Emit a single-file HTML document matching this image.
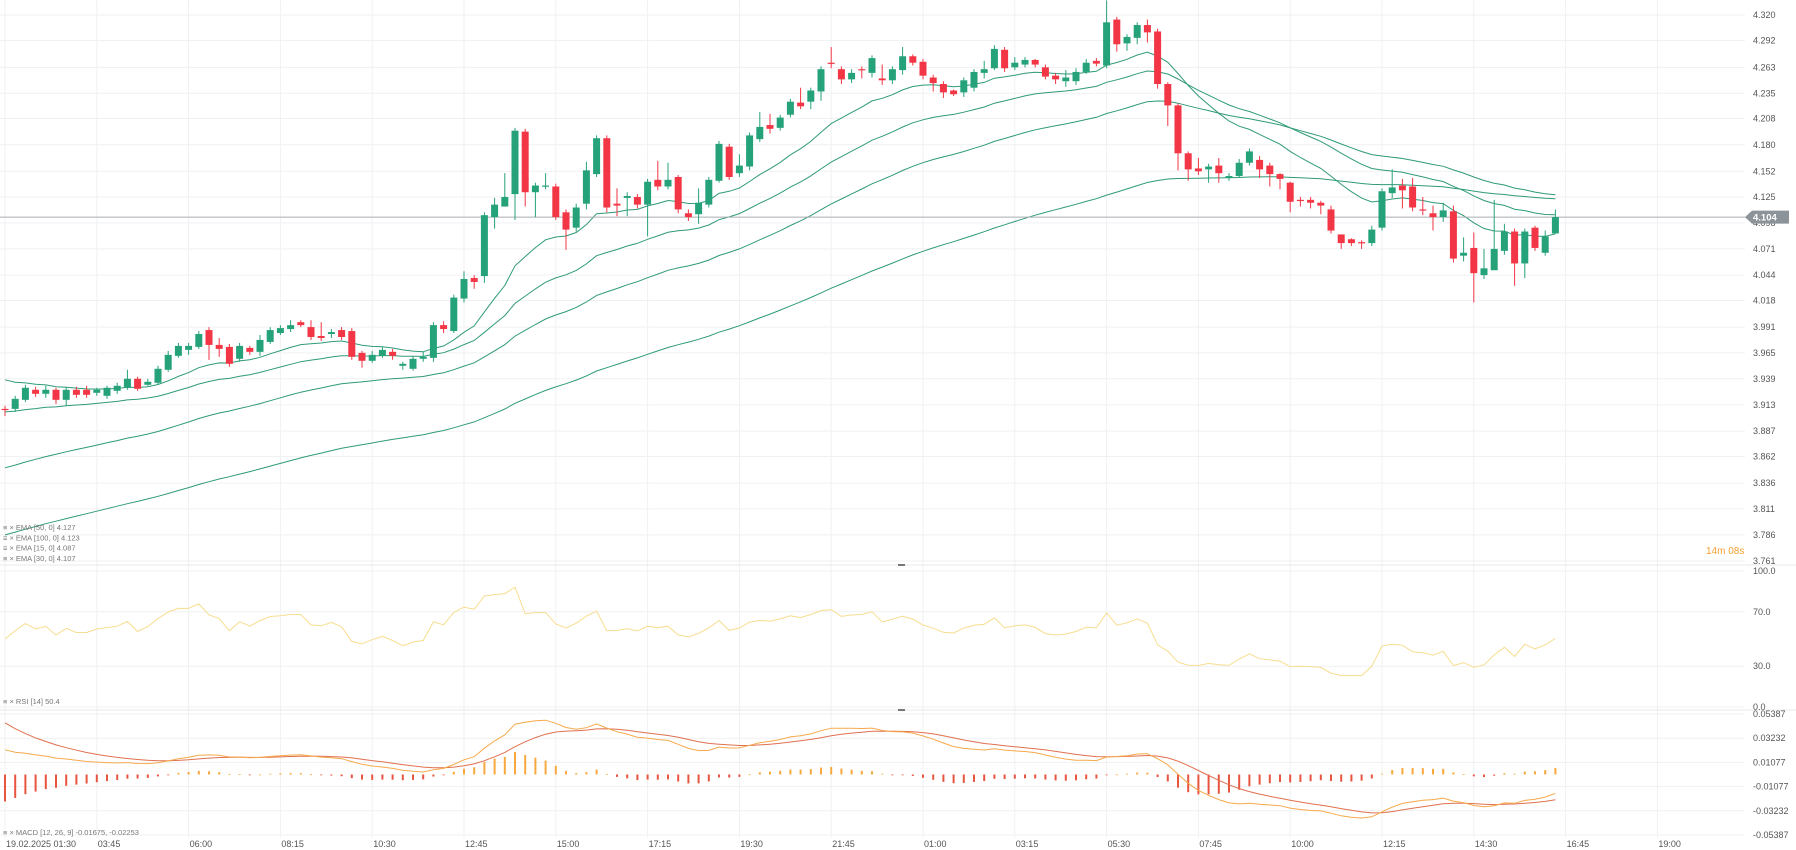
<!DOCTYPE html>
<html><head><meta charset="utf-8">
<style>
html,body{margin:0;padding:0;background:#fff;}
svg{display:block;font-family:"Liberation Sans",sans-serif;}
</style></head>
<body>
<svg id="chart" width="1796" height="850" viewBox="0 0 1796 850" xmlns="http://www.w3.org/2000/svg"></svg>
<script>
// ---- data ----
const timeLabels=["19.02.2025 01:30","03:45","06:00","08:15","10:30","12:45","15:00","17:15","19:30","21:45","01:00","03:15","05:30","07:45","10:00","12:15","14:30","16:45","19:00"];
const priceTicks=[4.320,4.292,4.263,4.235,4.208,4.180,4.152,4.125,4.098,4.071,4.044,4.018,3.991,3.965,3.939,3.913,3.887,3.862,3.836,3.811,3.786,3.761];
const rsiTicks=[100,70,30,0];
const macdTicks=[0.05387,0.03232,0.01077,-0.01077,-0.03232,-0.05387];
const opens=[3.909,3.909,3.918,3.928,3.924,3.928,3.918,3.928,3.928,3.925,3.922,3.927,3.930,3.939,3.933,3.935,3.948,3.962,3.968,3.971,3.988,3.973,3.971,3.959,3.970,3.966,3.976,3.985,3.989,3.996,3.991,3.982,3.984,3.988,3.987,3.965,3.957,3.962,3.966,3.952,3.949,3.959,3.960,3.993,3.987,4.020,4.041,4.043,4.104,4.115,4.128,4.194,4.130,4.136,4.136,4.109,4.093,4.118,4.149,4.187,4.118,4.124,4.125,4.117,4.143,4.136,4.146,4.108,4.107,4.117,4.142,4.178,4.150,4.157,4.186,4.201,4.198,4.212,4.225,4.226,4.237,4.268,4.261,4.250,4.261,4.257,4.251,4.249,4.260,4.275,4.269,4.252,4.245,4.238,4.236,4.241,4.257,4.262,4.282,4.263,4.266,4.271,4.263,4.254,4.248,4.248,4.258,4.270,4.265,4.315,4.289,4.295,4.309,4.302,4.245,4.222,4.171,4.155,4.154,4.158,4.145,4.147,4.161,4.164,4.158,4.149,4.140,4.122,4.122,4.119,4.112,4.086,4.081,4.078,4.077,4.093,4.129,4.137,4.136,4.112,4.108,4.104,4.110,4.064,4.072,4.044,4.049,4.069,4.089,4.056,4.093,4.067,4.087];
const closes=[3.908,3.919,3.930,3.924,3.928,3.918,3.928,3.923,3.923,3.928,3.930,3.932,3.939,3.929,3.936,3.949,3.963,3.972,3.972,3.984,3.973,3.969,3.954,3.972,3.966,3.978,3.988,3.990,3.993,3.993,3.981,3.980,3.986,3.981,3.961,3.957,3.963,3.968,3.962,3.954,3.959,3.961,3.993,3.989,4.021,4.040,4.037,4.106,4.117,4.125,4.195,4.130,4.137,4.137,4.104,4.091,4.114,4.153,4.187,4.114,4.116,4.126,4.117,4.141,4.136,4.143,4.112,4.104,4.119,4.143,4.181,4.146,4.158,4.190,4.199,4.197,4.209,4.226,4.221,4.238,4.261,4.267,4.250,4.257,4.260,4.273,4.249,4.261,4.275,4.268,4.254,4.246,4.236,4.234,4.249,4.258,4.261,4.283,4.262,4.268,4.271,4.266,4.253,4.250,4.252,4.258,4.268,4.267,4.312,4.288,4.296,4.309,4.301,4.245,4.222,4.171,4.154,4.152,4.157,4.150,4.147,4.161,4.173,4.154,4.149,4.144,4.120,4.121,4.119,4.116,4.090,4.077,4.077,4.077,4.091,4.131,4.135,4.132,4.114,4.111,4.104,4.111,4.061,4.067,4.046,4.051,4.071,4.089,4.056,4.089,4.072,4.084,4.104];
const highs=[3.912,3.922,3.933,3.931,3.932,3.930,3.931,3.931,3.932,3.930,3.932,3.935,3.948,3.941,3.939,3.952,3.967,3.975,3.975,3.987,3.991,3.980,3.974,3.975,3.972,3.983,3.991,3.993,3.998,3.998,3.998,3.996,3.989,3.991,3.990,3.967,3.967,3.971,3.969,3.956,3.962,3.966,3.996,3.997,4.024,4.048,4.044,4.109,4.124,4.150,4.198,4.197,4.140,4.150,4.139,4.112,4.118,4.162,4.190,4.190,4.134,4.130,4.128,4.144,4.163,4.161,4.148,4.112,4.134,4.146,4.184,4.181,4.170,4.193,4.215,4.213,4.212,4.229,4.241,4.241,4.264,4.285,4.264,4.261,4.264,4.276,4.266,4.264,4.285,4.277,4.272,4.255,4.248,4.239,4.252,4.261,4.270,4.287,4.285,4.274,4.274,4.272,4.266,4.257,4.260,4.262,4.272,4.273,4.336,4.318,4.299,4.312,4.315,4.305,4.247,4.224,4.173,4.166,4.160,4.166,4.150,4.165,4.176,4.168,4.161,4.150,4.141,4.125,4.125,4.121,4.116,4.080,4.082,4.080,4.095,4.134,4.154,4.144,4.145,4.125,4.116,4.119,4.116,4.083,4.088,4.071,4.122,4.097,4.092,4.092,4.095,4.090,4.112];
const lows=[3.902,3.906,3.916,3.921,3.920,3.914,3.912,3.920,3.920,3.922,3.919,3.924,3.928,3.927,3.932,3.933,3.946,3.960,3.963,3.969,3.958,3.961,3.951,3.956,3.963,3.962,3.974,3.983,3.986,3.991,3.978,3.977,3.980,3.978,3.958,3.950,3.955,3.960,3.958,3.948,3.947,3.956,3.956,3.985,3.985,4.016,4.030,4.036,4.092,4.115,4.101,4.115,4.104,4.133,4.101,4.070,4.089,4.112,4.146,4.109,4.105,4.105,4.113,4.084,4.132,4.133,4.108,4.100,4.097,4.114,4.140,4.143,4.146,4.153,4.183,4.192,4.195,4.209,4.218,4.218,4.227,4.262,4.245,4.246,4.251,4.252,4.244,4.245,4.255,4.265,4.250,4.237,4.230,4.232,4.231,4.237,4.251,4.260,4.258,4.260,4.263,4.263,4.250,4.245,4.242,4.244,4.256,4.264,4.262,4.280,4.281,4.288,4.290,4.240,4.200,4.153,4.142,4.148,4.140,4.140,4.142,4.145,4.158,4.145,4.136,4.133,4.109,4.115,4.113,4.107,4.087,4.071,4.074,4.071,4.074,4.090,4.124,4.113,4.110,4.106,4.090,4.099,4.057,4.058,4.016,4.040,4.058,4.065,4.033,4.041,4.069,4.064,4.093];
// indicator seeds (values carried in from history before the first visible bar)
const emaPeriods=[15,30,50,100];
const emaSeeds=[3.938,3.906,3.851,3.786];
const macdSeeds=[3.925,3.903,0.046]; // ema12, ema26, signal
const rsiSeeds=[0.003,0.003]; // avg gain, avg loss
const lastPrice=4.104;

// ---- scales ----
const NS="http://www.w3.org/2000/svg";
const svg=document.getElementById('chart');
const xC=i=>5+10.2*i;
const yP=p=>15+3940*Math.log(4.320/p);
const yR=v=>707-v*1.36;
const yM=v=>774.5-v*1123;
const PLOT_R=1745;
function el(tag,attrs,parent){const e=document.createElementNS(NS,tag);for(const k in attrs)e.setAttribute(k,attrs[k]);(parent||svg).appendChild(e);return e;}
function txt(s,x,y,attrs,parent){const t=el('text',Object.assign({x:x,y:y},attrs),parent);t.textContent=s;return t;}

// grids
const grid=el('g',{});


timeLabels.forEach((s,k)=>{
  const x=xC(9*k);
  const l=el('line',{x1:x,x2:x,y1:0,y2:838,stroke:'#f0f1f3','stroke-width':1},grid);
  
  
});
priceTicks.forEach(p=>{
  const y=yP(p);
  const l=el('line',{x1:0,x2:PLOT_R,y1:y,y2:y,stroke:'#f0f1f3','stroke-width':1},grid);
  
  
});
rsiTicks.forEach(v=>{
  const y=yR(v);
  const l=el('line',{x1:0,x2:PLOT_R,y1:y,y2:y,stroke:'#f0f1f3','stroke-width':1},grid);
  
  
});
macdTicks.forEach(v=>{
  const y=yM(v);
  const l=el('line',{x1:0,x2:PLOT_R,y1:y,y2:y,stroke:'#f0f1f3','stroke-width':1},grid);
  
  
});
// pane separators
[565,710].forEach(y=>{
  const l=el('line',{x1:0,x2:1796,y1:y,y2:y,stroke:'#e6e8eb','stroke-width':1});
  
  
  const h=el('rect',{x:898,y:y-1,width:7,height:2,fill:'#777'});
  
  
});

// EMAs
const emaG=el('g',{});


const emaLast=[];
emaPeriods.forEach((n,k)=>{
  const a=2/(n+1);let e=emaSeeds[k];let d='';
  closes.forEach((c,i)=>{ if(i>0) e=e+a*(c-e); d+=(i?'L':'M')+xC(i).toFixed(1)+' '+yP(e).toFixed(1); });
  emaLast.push(e);
  const p=el('path',{d:d,fill:'none',stroke:'#2f9a78','stroke-width':1},emaG);
  
  
});

// price line
const pl=el('line',{x1:0,x2:PLOT_R,y1:yP(lastPrice),y2:yP(lastPrice),stroke:'#a9adb2','stroke-width':1});



// candles
const cg=el('g',{});


closes.forEach((c,i)=>{
  const o=opens[i];const up=c>=o;const col=up?'#26a27b':'#f23645';
  const x=xC(i);
  const w=el('line',{x1:x,x2:x,y1:yP(highs[i]),y2:yP(lows[i]),stroke:col,'stroke-width':1},cg);
  
  
  const top=yP(Math.max(o,c)),bot=yP(Math.min(o,c));
  const b=el('rect',{x:x-3.5,y:top,width:7,height:Math.max(1.2,bot-top),fill:col},cg);
  
  
});

// price axis labels
const axG=el('g',{'font-size':9,fill:'#555'});


priceTicks.forEach(p=>{
  const t=txt(p.toFixed(3),1753,yP(p)+3,{},axG);
  
  
});
// last price tag
const tagY=yP(lastPrice);
const tag=el('path',{d:`M1745 ${tagY} L1752 ${tagY-6.5} L1789 ${tagY-6.5} L1789 ${tagY+6.5} L1752 ${tagY+6.5} Z`,fill:'#8c9399'});


const tagT=txt(lastPrice.toFixed(3),1753,tagY+3.5,{'font-size':9.5,fill:'#fff','font-weight':'bold'});


const cd=txt('14m 08s',1706,554,{'font-size':10,fill:'#f5a030'});



// EMA legend
const legG=el('g',{'font-size':7.5,fill:'#777'});


const legOrder=[2,3,0,1];
const legLabels=["EMA [50, 0] ","EMA [100, 0] ","EMA [15, 0] ","EMA [30, 0] "];
legOrder.forEach((k,r)=>{
  const y=530+r*10.3;
  const t=txt('≡ × '+legLabels[r]+emaLast[k].toFixed(3),3,y,{},legG);
  
  
});

// RSI
let ag=rsiSeeds[0],al=rsiSeeds[1];const rsiVals=[];
closes.forEach((c,i)=>{
  if(i>0){const ch=c-closes[i-1];ag=(ag*13+Math.max(ch,0))/14;al=(al*13+Math.max(-ch,0))/14;}
  rsiVals.push(al===0?100:100-100/(1+ag/al));
});
let rd='';rsiVals.forEach((v,i)=>{rd+=(i?'L':'M')+xC(i).toFixed(1)+' '+yR(v).toFixed(1);});
const rp=el('path',{d:rd,fill:'none',stroke:'#f7dd8f','stroke-width':1});


const rsiAx=el('g',{'font-size':9,fill:'#555'});


rsiTicks.forEach(v=>{
  const t=txt(v.toFixed(1),1753,yR(v)+3,{},rsiAx);
  
  
});
const rl=txt('≡ × RSI [14] '+rsiVals[rsiVals.length-1].toFixed(1),3,704,{'font-size':7.5,fill:'#777'});



// MACD
let e12=macdSeeds[0],e26=macdSeeds[1],sig=macdSeeds[2];const mV=[],sV=[];
closes.forEach((c,i)=>{
  if(i>0){e12+=2/13*(c-e12);e26+=2/27*(c-e26);}
  const m=e12-e26; if(i>0) sig+=0.2*(m-sig);
  mV.push(m);sV.push(sig);
});
const hg=el('g',{});


mV.forEach((m,i)=>{
  const h=m-sV[i];const y0=yM(0),y1=yM(h);
  const r=el('rect',{x:xC(i)-1,y:Math.min(y0,y1),width:2,height:Math.max(0.8,Math.abs(y1-y0)),fill:h>=0?'#f7a83e':'#e8553f'},hg);
  
  
});
let md='',sd='';
mV.forEach((m,i)=>{md+=(i?'L':'M')+xC(i).toFixed(1)+' '+yM(m).toFixed(1);sd+=(i?'L':'M')+xC(i).toFixed(1)+' '+yM(sV[i]).toFixed(1);});
const sp=el('path',{d:sd,fill:'none',stroke:'#e0704f','stroke-width':1});


const mp=el('path',{d:md,fill:'none',stroke:'#f6a94c','stroke-width':1});


const mAx=el('g',{'font-size':9,fill:'#555'});


macdTicks.forEach(v=>{
  const t=txt(v.toFixed(5),1753,yM(v)+3,{},mAx);
  
  
});
const ml=txt('≡ × MACD [12, 26, 9] '+mV[mV.length-1].toFixed(5)+',  '+sV[sV.length-1].toFixed(5),3,835,{'font-size':7.5,fill:'#777'});



// time axis
const tAx=el('g',{'font-size':9,fill:'#555'});


timeLabels.forEach((s,k)=>{
  const t=txt(s,xC(9*k)+1,847,{},tAx);
  
  
});
</script>
</body></html>
